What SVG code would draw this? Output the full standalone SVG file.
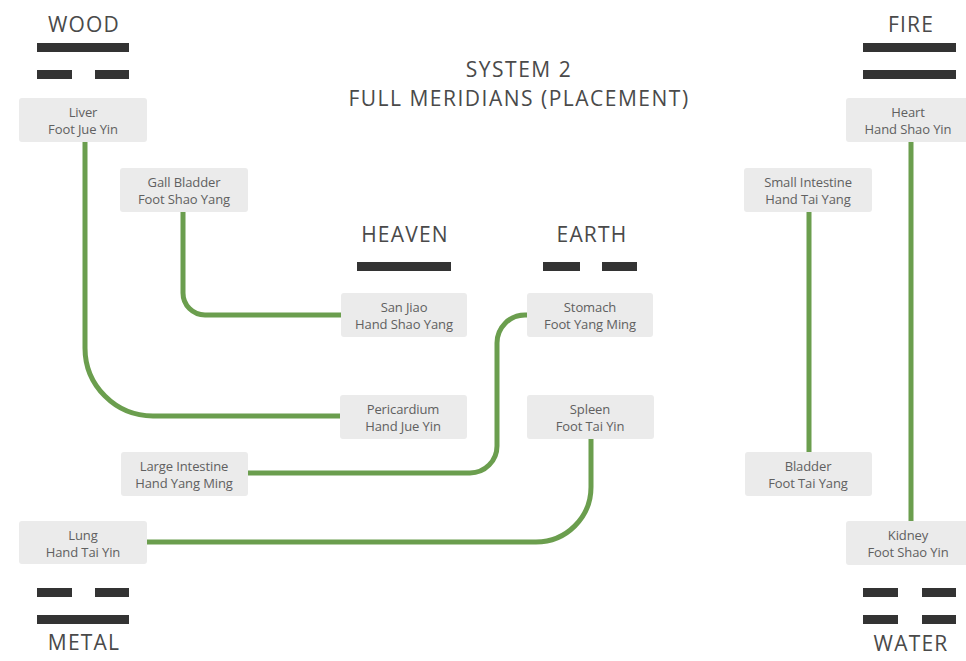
<svg xmlns="http://www.w3.org/2000/svg" width="966" height="661" viewBox="0 0 966 661">
<style>
.bg{fill:#ffffff}
.box{fill:#ebebeb}
.nt{font-family:"Open Sans","Liberation Sans",sans-serif;font-size:13px;fill:#606060;text-anchor:middle;letter-spacing:-0.1px}
.hd{font-family:"Open Sans","Liberation Sans",sans-serif;font-size:21px;fill:#4a4a4a;text-anchor:middle;letter-spacing:1.2px}
.tt{font-family:"Open Sans","Liberation Sans",sans-serif;font-size:21px;fill:#4a4a4a;text-anchor:middle;letter-spacing:1.5px}
.bar{fill:#333333}
.con{fill:none;stroke:#6b9e4e;stroke-width:5}
</style>
<rect class="bg" x="0" y="0" width="966" height="661"/>
<g id="title">
<text class="tt" x="519" y="77">SYSTEM 2</text>
<text class="tt" x="519" y="106">FULL MERIDIANS (PLACEMENT)</text>
</g>
<g id="wood">
<text class="hd" x="84" y="32">WOOD</text>
<rect class="bar" x="37" y="43" width="92" height="9"/>
<rect class="bar" x="37" y="70" width="35" height="9"/>
<rect class="bar" x="95" y="70" width="34" height="9"/>
</g>
<g id="fire">
<text class="hd" x="911" y="32">FIRE</text>
<rect class="bar" x="863" y="43" width="93" height="9"/>
<rect class="bar" x="863" y="70" width="93" height="9"/>
</g>
<g id="heaven">
<text class="hd" x="405" y="242">HEAVEN</text>
<rect class="bar" x="357" y="262" width="94" height="9"/>
</g>
<g id="earth">
<text class="hd" x="592" y="242">EARTH</text>
<rect class="bar" x="543" y="262" width="37" height="9"/>
<rect class="bar" x="602" y="262" width="35" height="9"/>
</g>
<g id="metal">
<rect class="bar" x="37" y="588" width="35" height="9"/>
<rect class="bar" x="95" y="588" width="34" height="9"/>
<rect class="bar" x="37" y="615" width="92" height="9"/>
<text class="hd" x="84" y="650">METAL</text>
</g>
<g id="water">
<rect class="bar" x="863" y="588" width="35" height="9"/>
<rect class="bar" x="922" y="588" width="34" height="9"/>
<rect class="bar" x="863" y="615" width="35" height="9"/>
<rect class="bar" x="922" y="615" width="34" height="9"/>
<text class="hd" x="911" y="651">WATER</text>
</g>
<g id="connectors">
<path class="con" d="M85,142 V348 A68,68 0 0 0 153,416 H341"/>
<path class="con" d="M183,212 V293 A22,22 0 0 0 205,315 H342"/>
<path class="con" d="M528,315 H525 A28,28 0 0 0 497,343 V446 A27,27 0 0 1 470,473 H247"/>
<path class="con" d="M591,439 V487 A55,55 0 0 1 536,542 H146"/>
<path class="con" d="M809,212 V452"/>
<path class="con" d="M911,142 V521"/>
</g>
<g id="liver">
<rect class="box" x="19" y="98" width="128" height="44" rx="3"/>
<text class="nt" x="83" y="117">Liver</text>
<text class="nt" x="83" y="134">Foot Jue Yin</text>
</g>
<g id="gall-bladder">
<rect class="box" x="120" y="168" width="128" height="44" rx="3"/>
<text class="nt" x="184" y="187">Gall Bladder</text>
<text class="nt" x="184" y="204">Foot Shao Yang</text>
</g>
<g id="san-jiao">
<rect class="box" x="341" y="293" width="126" height="44" rx="3"/>
<text class="nt" x="404" y="312">San Jiao</text>
<text class="nt" x="404" y="329">Hand Shao Yang</text>
</g>
<g id="stomach">
<rect class="box" x="527" y="293" width="126" height="44" rx="3"/>
<text class="nt" x="590" y="312">Stomach</text>
<text class="nt" x="590" y="329">Foot Yang Ming</text>
</g>
<g id="pericardium">
<rect class="box" x="340" y="395" width="127" height="44" rx="3"/>
<text class="nt" x="403" y="414">Pericardium</text>
<text class="nt" x="403" y="431">Hand Jue Yin</text>
</g>
<g id="spleen">
<rect class="box" x="527" y="395" width="127" height="44" rx="3"/>
<text class="nt" x="590" y="414">Spleen</text>
<text class="nt" x="590" y="431">Foot Tai Yin</text>
</g>
<g id="large-intestine">
<rect class="box" x="121" y="452" width="127" height="44" rx="3"/>
<text class="nt" x="184" y="471">Large Intestine</text>
<text class="nt" x="184" y="488">Hand Yang Ming</text>
</g>
<g id="lung">
<rect class="box" x="19" y="521" width="128" height="43" rx="3"/>
<text class="nt" x="83" y="540">Lung</text>
<text class="nt" x="83" y="557">Hand Tai Yin</text>
</g>
<g id="heart">
<rect class="box" x="846" y="98" width="124" height="44" rx="3"/>
<text class="nt" x="908" y="117">Heart</text>
<text class="nt" x="908" y="134">Hand Shao Yin</text>
</g>
<g id="small-intestine">
<rect class="box" x="744" y="168" width="128" height="44" rx="3"/>
<text class="nt" x="808" y="187">Small Intestine</text>
<text class="nt" x="808" y="204">Hand Tai Yang</text>
</g>
<g id="bladder">
<rect class="box" x="745" y="452" width="127" height="44" rx="3"/>
<text class="nt" x="808" y="471">Bladder</text>
<text class="nt" x="808" y="488">Foot Tai Yang</text>
</g>
<g id="kidney">
<rect class="box" x="846" y="521" width="124" height="44" rx="3"/>
<text class="nt" x="908" y="540">Kidney</text>
<text class="nt" x="908" y="557">Foot Shao Yin</text>
</g>
</svg>
